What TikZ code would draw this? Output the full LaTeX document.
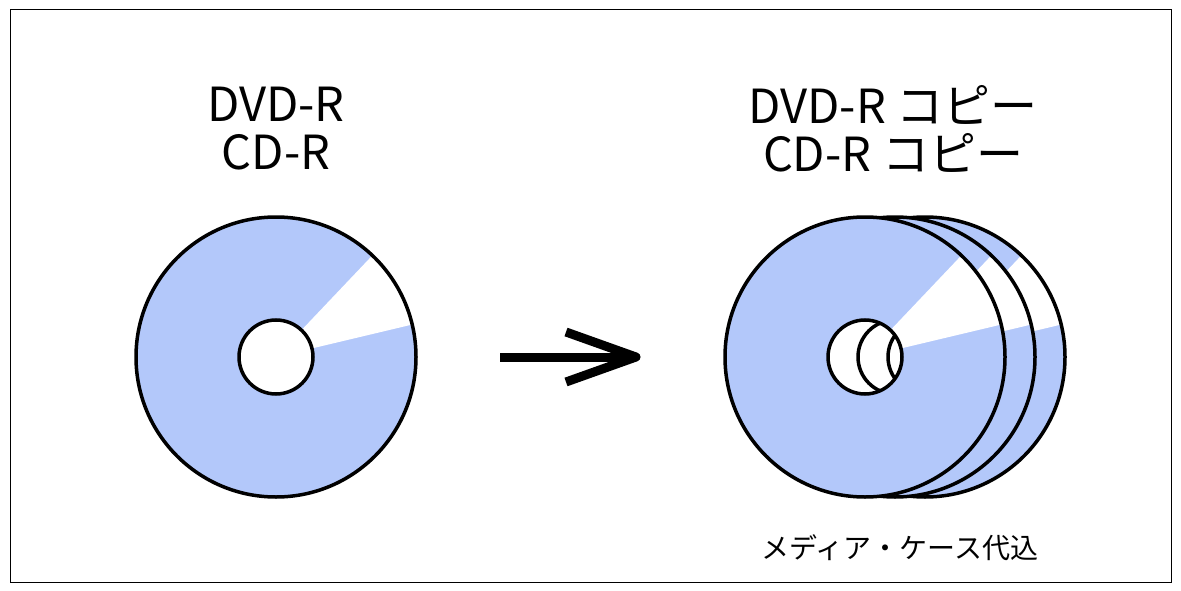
\documentclass[tikz,border=0pt]{standalone}
\usepackage{fontspec}
\setmainfont{Noto Sans CJK JP}
\usetikzlibrary{arrows.meta}
\definecolor{discblue}{HTML}{B3C8FA}
\tikzset{
  disc/.style={draw=black, line width=3.5pt, fill=discblue},
  title/.style={font=\fontsize{47}{54}\selectfont, align=center}
}
% disc with white wedge: centre
\newcommand{\discat}[1]{%
  \fill[discblue] (#1) circle (140);
  \fill[white] (#1) -- ++(-13.4:140) arc (-13.4:-46.5:140) -- cycle;
  \draw[line width=3.5pt] (#1) circle (140);
}
\begin{document}
\begin{tikzpicture}[x=1pt,y=-1pt]
\draw[line width=1pt,fill=white] (10,10) rectangle (1171,582);
\useasboundingbox (0,0) rectangle (1181,591);

% source disc
\coordinate (src) at (276,357);
\discat{src}
\draw[disc,fill=white] (src) circle (37);
\node[title] (srclabel) at (276,129) {DVD-R\\[-6pt]CD-R};

% arrow
\coordinate (arrowstart) at (500,357);
\coordinate (arrowend) at (636,357);
\coordinate (barbup) at (566,332);
\coordinate (barbdown) at (566,382);
\draw[line width=9pt] (arrowstart) -- (arrowend);
\draw[line width=9pt,line join=round] (barbup) -- (arrowend) -- (barbdown);

% copied discs
\coordinate (copyc) at (925,357);
\coordinate (copyb) at (895,357);
\coordinate (copya) at (865,357);
\discat{copyc}
\discat{copyb}
\discat{copya}
\fill[white] (copya) circle (37);
\begin{scope}
  \clip (copya) circle (37);
  \draw[line width=3.5pt] (copyb) circle (37);
  \draw[line width=3.5pt] (copyc) circle (37);
\end{scope}
\draw[line width=3.5pt] (copya) circle (37);
\node[title] (copylabel) at (893,129) {DVD-R コピー\\[-6pt]CD-R コピー};
\node[font=\fontsize{28}{32}\selectfont] (price) at (900,548) {メディア・ケース代込};
\end{tikzpicture}
\end{document}
